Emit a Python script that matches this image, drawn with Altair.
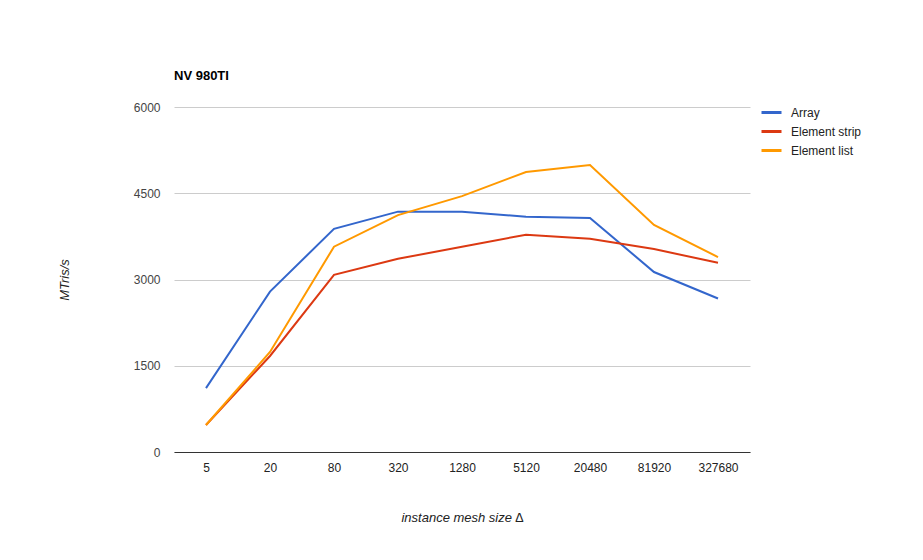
import altair as alt
import pandas as pd

sizes = ["5", "20", "80", "320", "1280", "5120", "20480", "81920", "327680"]
array_vals = [1110, 2790, 3880, 4180, 4180, 4090, 4070, 3130, 2670]
strip_vals = [470, 1670, 3080, 3360, 3570, 3780, 3710, 3530, 3290]
list_vals = [470, 1740, 3570, 4120, 4450, 4870, 4990, 3950, 3390]
series = ["Array", "Element strip", "Element list"]
colors = ["#3366cc", "#dc3912", "#ff9900"]

rows = []
for name, vals in zip(series, [array_vals, strip_vals, list_vals]):
    for s, v in zip(sizes, vals):
        rows.append({"size": s, "value": v, "series": name})
df = pd.DataFrame(rows)

FONT = "Liberation Sans"

chart = alt.Chart(df).mark_line(strokeWidth=2).encode(
    x=alt.X("size:N", sort=sizes,
            scale=alt.Scale(paddingInner=0, paddingOuter=0),
            axis=alt.Axis(title="instance mesh size ∆", labelAngle=0, ticks=False,
                          domainColor="#333333", labelPadding=10, titlePadding=38,
                          labelFontSize=12, labelColor="#222222",
                          titleFontStyle="italic", titleFontWeight="normal",
                          titleFontSize=13, titleColor="#222222")),
    y=alt.Y("value:Q", scale=alt.Scale(domain=[0, 6000], nice=False),
            axis=alt.Axis(title="MTris/s", values=[0, 1500, 3000, 4500, 6000],
                          format="d",
                          ticks=False, domain=False, gridColor="#cccccc",
                          labelPadding=14, titlePadding=62, labelFontSize=12,
                          labelColor="#444444", titleFontStyle="italic",
                          titleFontWeight="normal", titleFontSize=13,
                          titleColor="#222222")),
    color=alt.Color("series:N", sort=series,
                    scale=alt.Scale(domain=series, range=colors),
                    legend=alt.Legend(title=None, orient="none", legendX=586, legendY=-6,
                                      symbolType="stroke", symbolStrokeWidth=3,
                                      symbolSize=400, labelFontSize=12, labelOffset=8,
                                      labelColor="#222222", rowPadding=1,
                                      labelFont=FONT)),
).properties(
    width=576, height=345,
    title=alt.TitleParams("NV 980TI", anchor="start", frame="group", fontSize=13,
                          fontWeight="bold", font=FONT, color="#000000", offset=18),
    autosize=alt.AutoSizeParams(type="none"),
    padding={"left": 166, "top": 99, "right": 157, "bottom": 100},
).configure(font=FONT).configure_view(stroke=None).configure_axis(labelFont=FONT, titleFont=FONT)

chart.save("out.html", embed_options={"renderer": "svg", "actions": False})
